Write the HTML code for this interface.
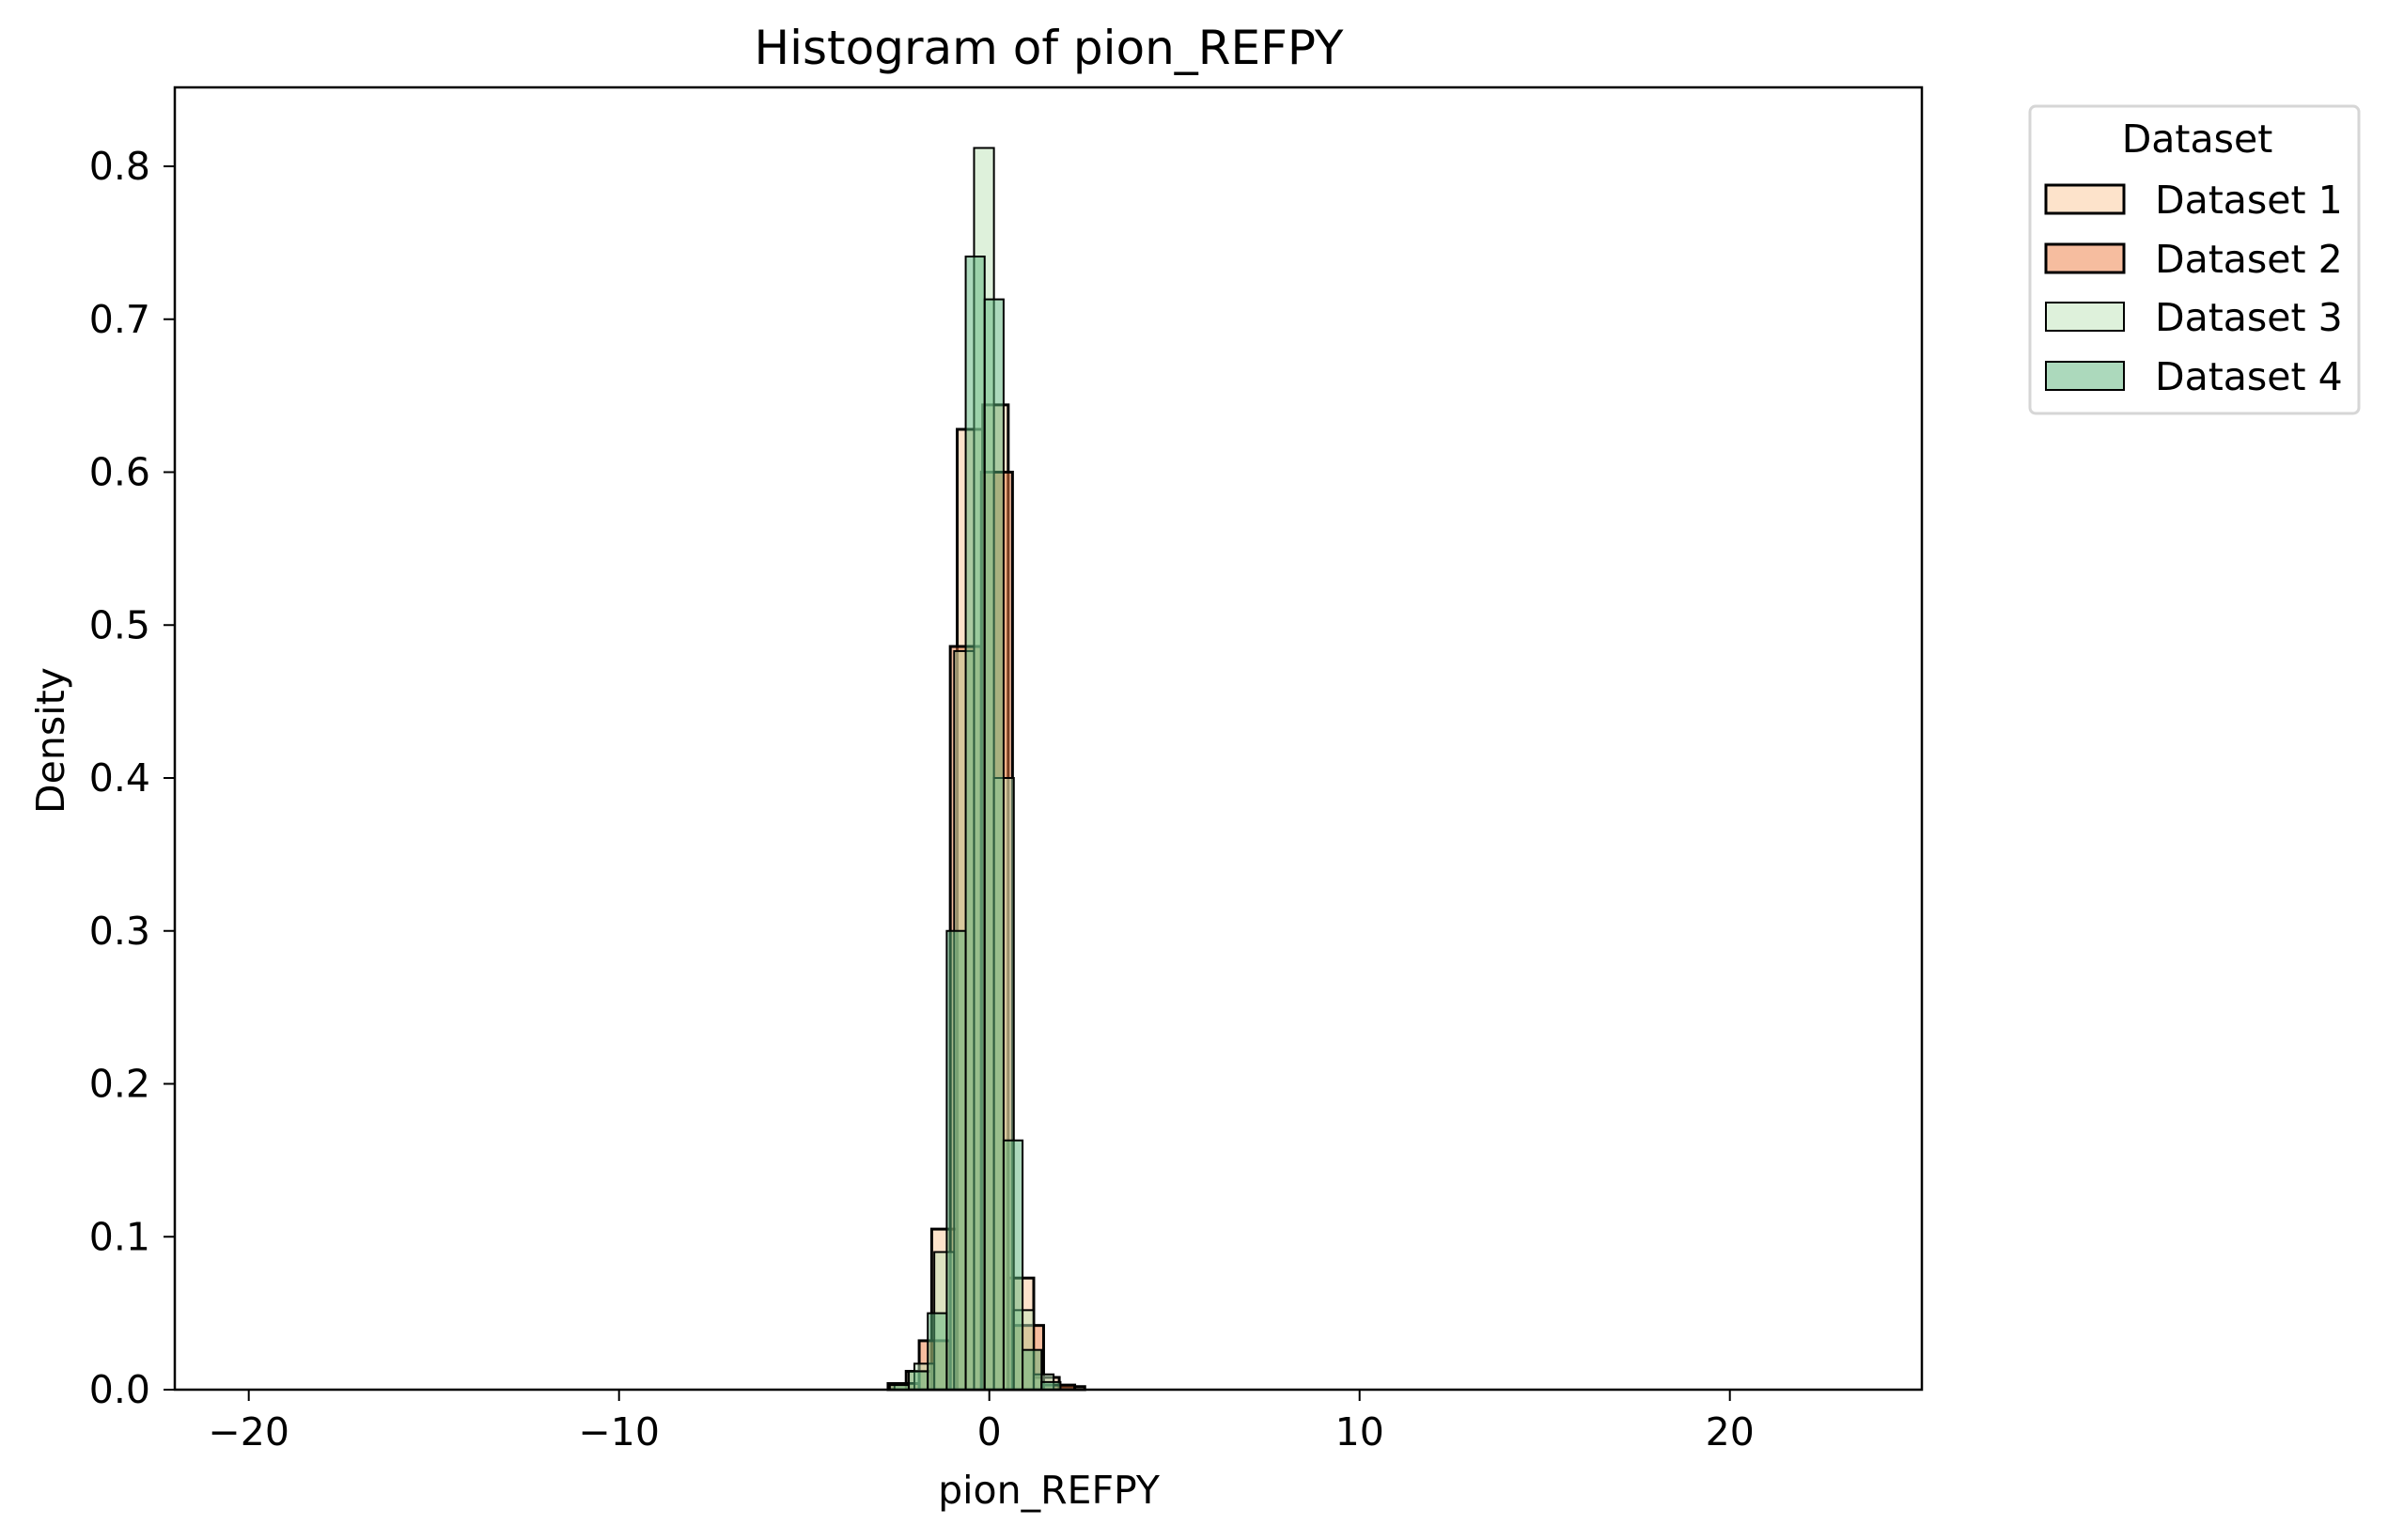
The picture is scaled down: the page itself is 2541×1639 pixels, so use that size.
<!DOCTYPE html>
<html><head><meta charset="utf-8"><style>
html,body{margin:0;padding:0;background:#fff;}
svg{display:block;font-family:"DejaVu Sans","Liberation Sans",sans-serif;}
</style></head><body>
<svg id="chart" width="2541" height="1639" viewBox="0 0 2541 1639" xmlns="http://www.w3.org/2000/svg">
<rect x="0" y="0" width="2541" height="1639" fill="#fff"/>
<text x="1116" y="68" font-size="50" text-anchor="middle">Histogram of pion_REFPY</text>
<g id="bars"></g>
<g id="axes"></g>
<text x="1116" y="1600" font-size="41" text-anchor="middle">pion_REFPY</text>
<text x="0" y="0" font-size="41" text-anchor="middle" transform="translate(68,788) rotate(-90)">Density</text>
<g>
<rect x="2160" y="113" width="350" height="327" rx="6" fill="#fff" stroke="#d6d6d6" stroke-width="3"/>
<text x="2338" y="162" font-size="41" text-anchor="middle">Dataset</text>
<g><rect x="2177" y="197" width="83" height="30" fill="#fde3cb" stroke="#000" stroke-width="3"/><text x="2293" y="227" font-size="41">Dataset 1</text></g>
<g><rect x="2177" y="260" width="83" height="30" fill="#f6bd9f" stroke="#000" stroke-width="3"/><text x="2293" y="290" font-size="41">Dataset 2</text></g>
<g><rect x="2177" y="322" width="83" height="30" fill="#def1db" stroke="#000" stroke-width="2"/><text x="2293" y="352" font-size="41">Dataset 3</text></g>
<g><rect x="2177" y="385" width="83" height="30" fill="#acd9bc" stroke="#000" stroke-width="2"/><text x="2293" y="415" font-size="41">Dataset 4</text></g>
</g>
</svg>
<script>
const xTicks = [-20, -10, 0, 10, 20];
const xTickLabels = ["\u221220", "\u221210", "0", "10", "20"];
const yTicks = [0, 0.1, 0.2, 0.3, 0.4, 0.5, 0.6, 0.7, 0.8];
const yTickLabels = ["0.0", "0.1", "0.2", "0.3", "0.4", "0.5", "0.6", "0.7", "0.8"];
const d1Start = -2.245, d1Width = 0.689;
const d1Values = [0.012, 0.105, 0.628, 0.644, 0.073, 0.008, 0.002];
const d2Start = -2.734, d2Width = 0.84;
const d2Values = [0.004, 0.032, 0.486, 0.600, 0.042, 0.003];
const d3Start = -2.56, d3Width = 0.537;
const d3Values = [0.004, 0.017, 0.090, 0.483, 0.812, 0.400, 0.052, 0.010];
const d4Start = -2.686, d4Width = 0.512;
const d4Values = [0.003, 0.012, 0.050, 0.300, 0.741, 0.713, 0.163, 0.026, 0.005];

const NS = "http://www.w3.org/2000/svg";
const L = 186, R = 2045, T = 93, B = 1479;
function xs(v){ return 1052.7 + v * 39.4; }
function ys(v){ return B - v * 1627.5; }

const bars = document.getElementById('bars');
const series = [
  {start:d1Start, w:d1Width, vals:d1Values, fill:"rgba(251,199,151,0.5)", sw:3, n:1},
  {start:d2Start, w:d2Width, vals:d2Values, fill:"rgba(237,123,63,0.5)", sw:3, n:2},
  {start:d3Start, w:d3Width, vals:d3Values, fill:"rgba(189,227,183,0.5)", sw:2, n:3},
  {start:d4Start, w:d4Width, vals:d4Values, fill:"rgba(89,179,121,0.5)", sw:2, n:4}
];
series.forEach(s => {
  s.vals.forEach((v, i) => {
    const x0 = xs(s.start + i * s.w), x1 = xs(s.start + (i + 1) * s.w);
    const r = document.createElementNS(NS, 'rect');
    r.setAttribute('x', x0);
    r.setAttribute('y', ys(v));
    r.setAttribute('width', x1 - x0);
    r.setAttribute('height', B - ys(v));
    r.setAttribute('fill', s.fill);
    r.setAttribute('stroke', '#000');
    r.setAttribute('stroke-width', s.sw);
    
    
    bars.appendChild(r);
  });
});

const axes = document.getElementById('axes');
const frame = document.createElementNS(NS, 'rect');
frame.setAttribute('x', L); frame.setAttribute('y', T);
frame.setAttribute('width', R - L); frame.setAttribute('height', B - T);
frame.setAttribute('fill', 'none'); frame.setAttribute('stroke', '#000'); frame.setAttribute('stroke-width', 2.5);


axes.appendChild(frame);

xTicks.forEach((t, i) => {
  const x = xs(t);
  const ln = document.createElementNS(NS, 'line');
  ln.setAttribute('x1', x); ln.setAttribute('x2', x);
  ln.setAttribute('y1', B); ln.setAttribute('y2', B + 12);
  ln.setAttribute('stroke', '#000'); ln.setAttribute('stroke-width', 2);
  
  
  axes.appendChild(ln);
  const tx = document.createElementNS(NS, 'text');
  tx.setAttribute('x', x); tx.setAttribute('y', B + 59);
  tx.setAttribute('font-size', 41); tx.setAttribute('text-anchor', 'middle');
  tx.textContent = xTickLabels[i];
  
  
  axes.appendChild(tx);
});
yTicks.forEach((t, i) => {
  const y = ys(t);
  const ln = document.createElementNS(NS, 'line');
  ln.setAttribute('x1', L - 12); ln.setAttribute('x2', L);
  ln.setAttribute('y1', y); ln.setAttribute('y2', y);
  ln.setAttribute('stroke', '#000'); ln.setAttribute('stroke-width', 2);
  
  
  axes.appendChild(ln);
  const tx = document.createElementNS(NS, 'text');
  tx.setAttribute('x', L - 26); tx.setAttribute('y', y + 14);
  tx.setAttribute('font-size', 41); tx.setAttribute('text-anchor', 'end');
  tx.textContent = yTickLabels[i];
  
  
  axes.appendChild(tx);
});
</script>
</body></html>
